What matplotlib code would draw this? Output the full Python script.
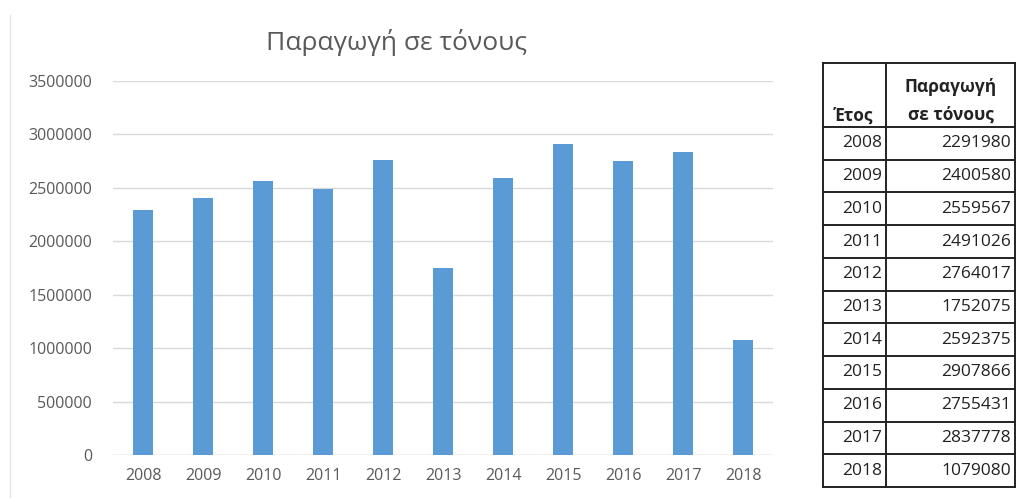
import matplotlib.pyplot as plt
from matplotlib.lines import Line2D

plt.rcParams['font.family'] = ['Open Sans', 'DejaVu Sans']

# production per year (tonnes)
years = ['2008', '2009', '2010', '2011', '2012', '2013', '2014', '2015', '2016', '2017', '2018']
production = [2291980, 2400580, 2559567, 2491026, 2764017, 1752075,
              2592375, 2907866, 2755431, 2837778, 1079080]
title = 'Παραγωγή σε τόνους'
col_year = 'Έτος'
col_prod = ['Παραγωγή', 'σε τόνους']

W, H = 1016, 498
fig = plt.figure(figsize=(W / 100, H / 100), dpi=100)

# bar chart
ax = fig.add_axes([113 / W, 1 - 455 / H, 660 / W, 374 / H])
x = range(len(years))
ax.bar(x, production, width=0.32, color='#5b9bd5', zorder=3)
ax.set_xlim(-0.5, len(years) - 0.5)
ax.set_ylim(0, 3500000)
ax.set_yticks(range(0, 3500001, 500000))
ax.set_yticklabels([str(v) for v in range(0, 3500001, 500000)])
ax.set_xticks(list(x))
ax.set_xticklabels(years)
ax.tick_params(length=0, labelsize=11.5, colors='#595959')
ax.tick_params(axis='y', pad=15)
ax.tick_params(axis='x', pad=9)
ax.grid(axis='y', color='#d9d9d9', linewidth=1, zorder=0)
for s in ax.spines.values():
    s.set_visible(False)
ax.axhline(0, color='#d9d9d9', linewidth=1, zorder=2)

fig.text(397 / W, 1 - 42 / H, title, ha='center', va='center',
         fontsize=19, color='#595959')

# overlay in pixel coordinates for the table and the chart frame
ov = fig.add_axes([0, 0, 1, 1], zorder=5)
ov.set_xlim(0, W)
ov.set_ylim(H, 0)
ov.axis('off')
ov.patch.set_alpha(0)

ov.add_line(Line2D([10, 10], [15, 498], color='#e4e4e4', linewidth=1))

left, mid, right = 823, 886, 1015
top, head_bot, bot = 63, 127, 487
row_h = (bot - head_bot) / len(years)
lw = 1.4
for xx in (left, mid, right):
    ov.add_line(Line2D([xx, xx], [top, bot], color='#222222', linewidth=lw))
ov.add_line(Line2D([left, right], [top, top], color='#222222', linewidth=lw))
for i in range(len(years) + 1):
    yy = head_bot + i * row_h
    ov.add_line(Line2D([left, right], [yy, yy], color='#222222', linewidth=lw))

hdr = dict(ha='center', va='center', fontsize=12.5, fontweight='bold',
           color='#222222')
ov.text(854, 116, col_year, **hdr)
ov.text((mid + right) / 2, 87, col_prod[0], **hdr)
ov.text((mid + right) / 2, 115, col_prod[1], **hdr)

for i, (yr, val) in enumerate(zip(years, production)):
    yc = head_bot + (i + 0.5) * row_h
    ov.text(mid - 4, yc, yr, ha='right', va='center', fontsize=12.5, color='#222222')
    ov.text(right - 4, yc, str(val), ha='right', va='center', fontsize=12.5,
            color='#222222')

fig.savefig('out.png', dpi=100, facecolor='white')
